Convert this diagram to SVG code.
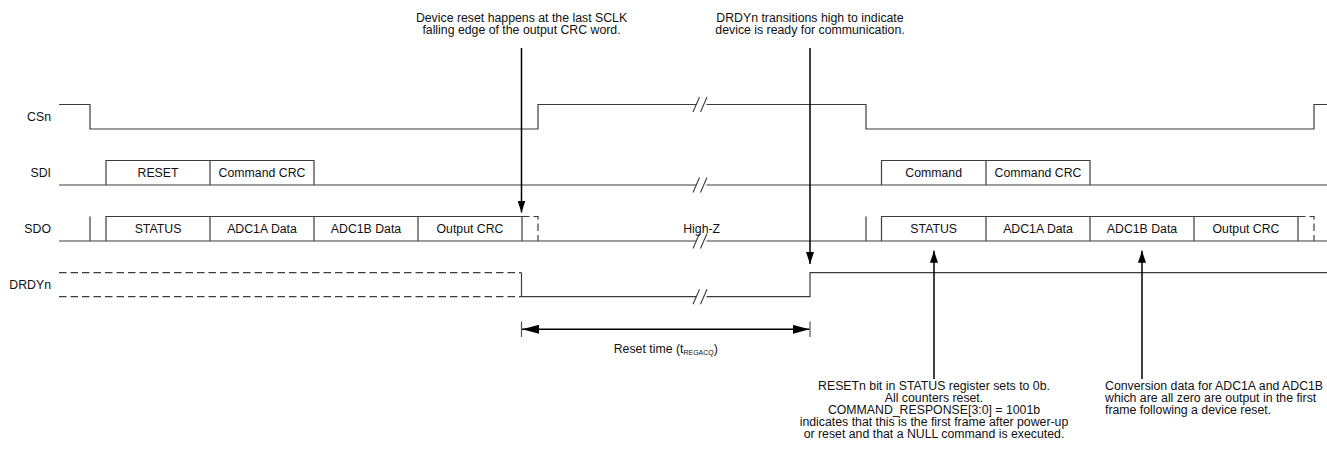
<svg xmlns="http://www.w3.org/2000/svg" width="1327" height="455" viewBox="0 0 1327 455">
<style>
text{font-family:"Liberation Sans",Arial,sans-serif;font-size:12.3px;fill:#111}
.c{text-anchor:middle}
.e{text-anchor:end}
.w{fill:none;stroke:#3c3c3c;stroke-width:1.2}
.d{fill:none;stroke:#3c3c3c;stroke-width:1.2;stroke-dasharray:7.5 4}
.a{fill:none;stroke:#000;stroke-width:1.5}
.t{fill:none;stroke:#555;stroke-width:1.2}
.sub{font-size:7px}
</style>
<defs>
<marker id="ah" viewBox="0 0 12 8" refX="12" refY="4" markerWidth="12" markerHeight="8" markerUnits="userSpaceOnUse" orient="auto">
<path d="M0,0 L12,4 L0,8 Z" fill="#000"/>
</marker>
<marker id="ahL" viewBox="0 0 17 9" refX="17" refY="4.5" markerWidth="17" markerHeight="9" markerUnits="userSpaceOnUse" orient="auto-start-reverse">
<path d="M0,0 L17,4.5 L0,9 Z" fill="#000"/>
</marker>
<g id="brk"><path d="M-3.5,7.5 L3,-7.5 M4,7.5 L10.5,-7.5" fill="none" stroke="#3c3c3c" stroke-width="1.1"/></g>
</defs>
<rect width="1327" height="455" fill="#fff"/>

<g id="csn">
<text class="e" x="51" y="121">CSn</text>
<path class="w" d="M59,104.5 H90 V129 H538 V104.5 H696.5"/>
<path class="w" d="M706.5,104.5 H866 V129 H1314 V104.5 H1327"/>
<use href="#brk" x="696.5" y="104.5"/>
</g>

<g id="sdi">
<text class="e" x="51" y="177">SDI</text>
<path class="w" d="M59,185 H696.5 M706.5,185 H1327"/>
<use href="#brk" x="696.5" y="185"/>
<path class="w" d="M106,185 V160.5 H314 V185 M210,160.5 V185"/>
<path class="w" d="M881.5,185 V160.5 H1090 V185 M986,160.5 V185"/>
<text class="c" x="158" y="177">RESET</text>
<text class="c" x="262" y="177">Command CRC</text>
<text class="c" x="933.7" y="177">Command</text>
<text class="c" x="1038" y="177">Command CRC</text>
</g>

<g id="sdo">
<text class="e" x="51" y="233.3">SDO</text>
<path class="w" d="M59,241 H696.5 M706.5,241 H1327"/>
<use href="#brk" x="696.5" y="241"/>
<path class="w" d="M90,216.5 V241 M866,216.5 V241"/>
<path class="w" d="M106,241 V216.5 H522 V241 M210,216.5 V241 M314,216.5 V241 M418,216.5 V241"/>
<path class="d" d="M522,216.5 H538 V241"/>
<path class="w" d="M881.5,241 V216.5 H1298 V241 M986,216.5 V241 M1090,216.5 V241 M1194,216.5 V241"/>
<path class="d" d="M1298,216.5 H1314 V241"/>
<text class="c" x="158" y="233.3">STATUS</text>
<text class="c" x="262" y="233.3">ADC1A Data</text>
<text class="c" x="366" y="233.3">ADC1B Data</text>
<text class="c" x="470" y="233.3">Output CRC</text>
<text class="c" x="701.7" y="233.3">High-Z</text>
<text class="c" x="933.7" y="233.3">STATUS</text>
<text class="c" x="1038" y="233.3">ADC1A Data</text>
<text class="c" x="1142" y="233.3">ADC1B Data</text>
<text class="c" x="1246" y="233.3">Output CRC</text>
</g>

<g id="drdyn">
<text class="e" x="51" y="288.6">DRDYn</text>
<path class="d" d="M59,272.7 H521.5 M59,296.7 H521.5"/>
<path class="w" d="M521.5,272.7 V296.7 H696.5"/>
<path class="w" d="M706.5,296.7 H810 V272.7 H1327"/>
<use href="#brk" x="696.5" y="296.7"/>
</g>

<g id="note-reset">
<text class="c" x="521.5" y="21.5">Device reset happens at the last SCLK</text>
<text class="c" x="521.5" y="33.5">falling edge of the output CRC word.</text>
</g>
<g id="note-drdy">
<text class="c" x="810" y="21.5">DRDYn transitions high to indicate</text>
<text class="c" x="810" y="33.5">device is ready for communication.</text>
</g>
<g id="note-resettime">
<text class="c" x="665.8" y="353">Reset time (t<tspan class="sub" dy="2">REGACQ</tspan><tspan dy="-2">)</tspan></text>
</g>
<g id="note-status">
<text class="c" x="934" y="390">RESETn bit in STATUS register sets to 0b.</text>
<text class="c" x="934" y="402">All counters reset.</text>
<text class="c" x="934" y="414">COMMAND_RESPONSE[3:0] = 1001b</text>
<text class="c" x="934" y="426">indicates that this is the first frame after power-up</text>
<text class="c" x="934" y="438">or reset and that a NULL command is executed.</text>
</g>
<g id="note-data">
<text x="1105" y="390">Conversion data for ADC1A and ADC1B</text>
<text x="1105" y="402">which are all zero are output in the first</text>
<text x="1105" y="414">frame following a device reset.</text>
</g>

<g id="connectors">
<line class="a" x1="521.5" y1="48" x2="521.5" y2="212.5" marker-end="url(#ah)"/>
<line class="a" x1="810" y1="48" x2="810" y2="264" marker-end="url(#ah)"/>
<line class="a" x1="934" y1="379" x2="934" y2="250.7" marker-end="url(#ah)"/>
<line class="a" x1="1142" y1="379" x2="1142" y2="250.7" marker-end="url(#ah)"/>
<line class="a" x1="522" y1="329.3" x2="809.5" y2="329.3" marker-start="url(#ahL)" marker-end="url(#ahL)"/>
<path class="t" d="M521.5,321.5 V337 M810,321.5 V337"/>
</g>
</svg>
